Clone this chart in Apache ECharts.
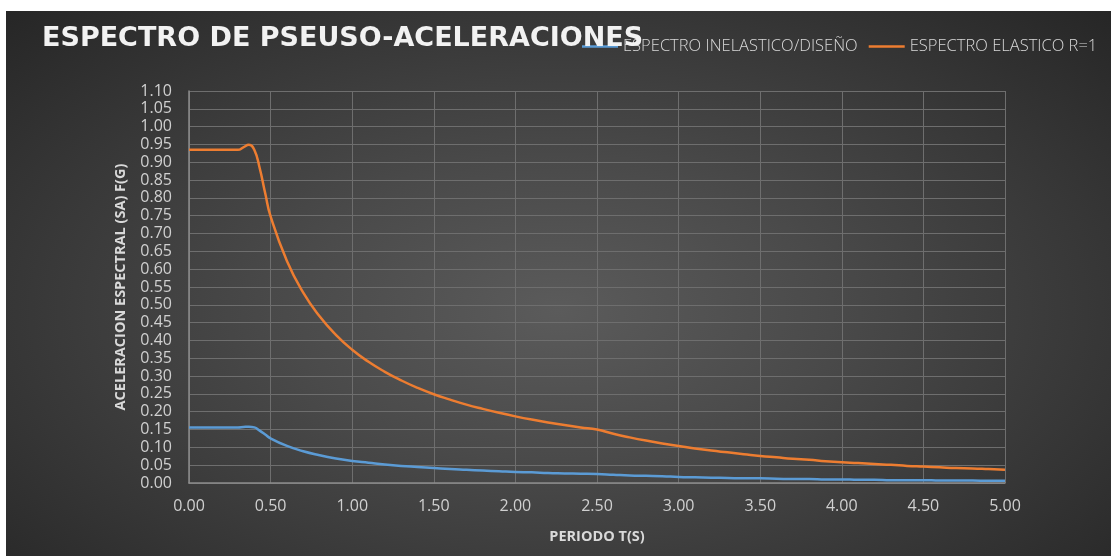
<!DOCTYPE html>
<html>
<head>
<meta charset="utf-8">
<script src="https://cdn.jsdelivr.net/npm/echarts@6/dist/echarts.min.js"></script>
<style>
  html, body { margin: 0; padding: 0; background: #ffffff; width: 1111px; height: 556px; overflow: hidden; }
  #wrap { position: absolute; left: 6px; top: 11px; width: 1105px; height: 545px;
          background: radial-gradient(ellipse farthest-corner at 50% 55%, #5b5b5b 0%, #4a4a4a 35%, #262626 100%); }
  #chart { width: 1105px; height: 545px; }
</style>
</head>
<body>
<div id="wrap"><div id="chart"></div></div>
<script>
// ---- data ----
const periods = [0.0,0.1,0.2,0.3,0.333,0.367,0.4,0.433,0.467,0.5,0.6,0.7,0.8,0.9,1.0,1.1,1.2,1.3,1.4,1.5,1.6,1.7,1.8,1.9,2.0,
  2.1,2.2,2.3,2.4,2.5,2.6,2.7,2.8,2.9,3.0,3.1,3.2,3.3,3.4,3.5,3.6,3.7,3.8,3.9,4.0,
  4.1,4.2,4.3,4.4,4.5,4.6,4.7,4.8,4.9,5.0];
const elastic = [0.935,0.935,0.935,0.935,0.942,0.949,0.935,0.884,0.813,0.748,0.623,0.534,0.468,0.416,0.374,0.340,0.312,0.288,0.267,0.249,0.234,0.220,0.208,0.197,0.187,
  0.178,0.170,0.163,0.156,0.150,0.138,0.128,0.119,0.111,0.104,0.097,0.091,0.086,0.081,0.076,0.072,0.068,0.065,0.061,0.058,
  0.056,0.053,0.051,0.048,0.046,0.044,0.042,0.041,0.039,0.037];
const inelastic = [0.156,0.156,0.156,0.156,0.157,0.158,0.156,0.147,0.136,0.125,0.104,0.089,0.078,0.069,0.062,0.057,0.052,0.048,0.045,0.042,0.039,0.037,0.035,0.033,0.031,
  0.030,0.028,0.027,0.026,0.025,0.023,0.021,0.020,0.019,0.017,0.016,0.015,0.014,0.013,0.013,0.012,0.011,0.011,0.010,0.010,
  0.009,0.009,0.008,0.008,0.008,0.007,0.007,0.007,0.006,0.006];
const seriesNames = ['ESPECTRO INELASTICO/DISEÑO', 'ESPECTRO ELASTICO R=1'];
const titleText = 'ESPECTRO DE PSEUSO-ACELERACIONES';
const xAxisName = 'PERIODO T(S)';
const yAxisName = 'ACELERACION ESPECTRAL (SA) F(G)';

const pair = (xs, ys) => xs.map((x, i) => [x, ys[i]]);
const font = '"Open Sans", "Noto Sans", sans-serif';

const chart = echarts.init(document.getElementById('chart'), null, { renderer: 'canvas' });
chart.setOption({
  backgroundColor: 'transparent',
  animation: false,
  title: {
    text: titleText,
    left: 31, top: 9,
    textStyle: { color: '#f2f2f2', fontFamily: '"DejaVu Sans", sans-serif', fontWeight: 'bold', fontSize: 27 }
  },
  legend: {
    left: 571, top: 22,
    itemWidth: 36, itemHeight: 14, itemGap: 11,
    icon: 'path://M0,6 L36,6 L36,8.5 L0,8.5 Z',
    textStyle: { color: '#d9d9d9', fontFamily: font, fontSize: 16.5, fontWeight: 300 },
    data: seriesNames
  },
  grid: { left: 183, right: 106, top: 80, bottom: 73, containLabel: false },
  xAxis: {
    type: 'value', min: 0, max: 5, interval: 0.5,
    name: xAxisName, nameLocation: 'middle', nameGap: 46,
    nameTextStyle: { color: '#d9d9d9', fontFamily: font, fontWeight: 'bold', fontSize: 14.5 },
    axisLine: { show: true, lineStyle: { color: '#8c8c8c', width: 1.5 } },
    axisTick: { show: false },
    axisLabel: { color: '#d0d0d0', fontFamily: font, fontSize: 16, margin: 15,
                 formatter: v => v.toFixed(2) },
    splitLine: { show: true, lineStyle: { color: '#6e6e6e', width: 1 } }
  },
  yAxis: {
    type: 'value', min: 0, max: 1.1, interval: 0.05,
    name: yAxisName, nameLocation: 'middle', nameGap: 61, nameRotate: 90,
    nameTextStyle: { color: '#d9d9d9', fontFamily: font, fontWeight: 'bold', fontSize: 14.5 },
    axisLine: { show: true, lineStyle: { color: '#8c8c8c', width: 1.5 } },
    axisTick: { show: false },
    axisLabel: { color: '#d0d0d0', fontFamily: font, fontSize: 16, margin: 17,
                 formatter: v => v.toFixed(2) },
    splitLine: { show: true, lineStyle: { color: '#6e6e6e', width: 1 } }
  },
  series: [
    {
      name: seriesNames[0], type: 'line', data: pair(periods, inelastic),
      smooth: 0.5, showSymbol: false, symbol: 'none',
      color: '#5B9BD5', lineStyle: { color: '#5B9BD5', width: 2.5 }
    },
    {
      name: seriesNames[1], type: 'line', data: pair(periods, elastic),
      smooth: 0.5, showSymbol: false, symbol: 'none',
      color: '#ED7D31', lineStyle: { color: '#ED7D31', width: 2.5 }
    }
  ]
});
</script>
</body>
</html>
